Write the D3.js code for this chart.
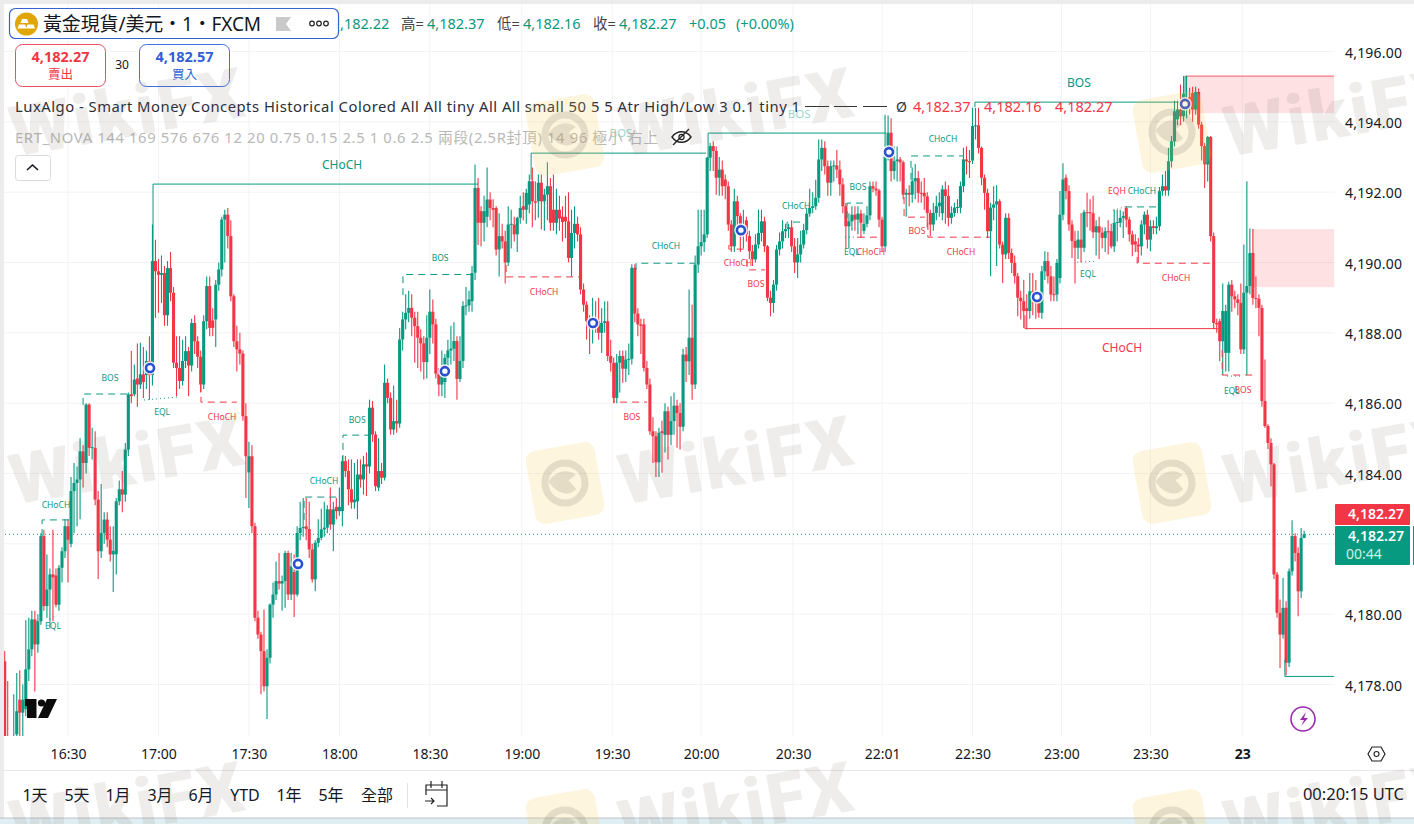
<!DOCTYPE html>
<html><head><meta charset="utf-8">
<script src="https://cdn.jsdelivr.net/npm/d3@7"></script>
<style>html,body{margin:0;padding:0;background:#fff;overflow:hidden}svg{display:block}</style>
</head><body><svg id="c" width="1414" height="824"></svg>
<script>
const opens=[
4178.66,4176.4,4176.0,4175.9,4176.58,4177.57,4177.2,4177.3,4178.43,4179.0,
4179.85,4179.14,4179.8,4182.22,4180.23,4180.7,4181.13,4181.1,4180.27,4181.32,
4181.79,4182.5,4182.0,4183.5,4183.73,4183.83,4184.63,4184.3,4185.96,4184.73,
4184.73,4183.26,4181.79,4182.31,4182.69,4182.12,4181.7,4181.7,4183.21,4183.55,
4183.4,4184.68,4186.25,4186.25,4186.7,4186.53,4186.82,4186.8,4187.2,4186.8,
4190.04,4189.75,4189.65,4189.7,4188.5,4189.84,4189.14,4187.15,4187.0,4186.63,
4187.2,4187.48,4187.07,4188.28,4187.76,4187.32,4186.53,4188.33,4189.33,4188.35,
4188.38,4189.37,4189.8,4191.22,4191.36,4190.75,4189.04,4187.76,4187.53,4187.41,
4185.63,4184.03,4184.49,4182.5,4179.9,4179.42,4178.95,4177.95,4178.76,4180.27,
4180.56,4180.94,4180.87,4180.94,4181.74,4180.56,4181.2,4180.56,4182.31,4182.45,
4182.5,4182.42,4181.84,4180.99,4182.03,4182.17,4182.41,4182.46,4182.98,4182.55,
4183.05,4182.93,4182.93,4184.35,4184.07,4183.55,4183.18,4183.21,4183.97,4183.83,
4184.26,4184.2,4185.87,4185.11,4183.6,4184.07,4183.88,4186.58,4186.15,4185.25,
4185.49,4185.42,4187.81,4188.38,4188.57,4188.71,4188.43,4188.19,4187.86,4187.7,
4187.17,4187.86,4188.6,4188.24,4186.84,4186.53,4186.6,4187.29,4187.5,4187.55,
4187.77,4186.69,4187.2,4188.76,4188.78,4188.9,4189.71,4192.12,4191.46,4191.13,
4191.3,4191.79,4191.55,4191.55,4190.37,4190.75,4190.6,4190.0,4191.08,4191.08,
4190.8,4191.27,4191.6,4191.5,4191.65,4192.31,4191.74,4191.74,4192.27,4191.74,
4191.93,4192.17,4191.5,4191.13,4191.5,4191.3,4191.3,4191.17,4190.13,4190.84,
4191.1,4190.8,4189.23,4188.8,4188.33,4188.14,4188.33,4188.33,4188.0,4188.28,
4188.33,4187.34,4187.15,4186.15,4187.15,4187.34,4186.98,4187.24,4187.26,4189.85,
4188.55,4188.24,4188.24,4187.0,4186.53,4185.2,4185.06,4184.32,4185.2,4185.1,
4185.77,4185.1,4185.49,4185.93,4185.72,4185.33,4187.38,4187.19,4187.86,4186.53,
4189.94,4190.46,4190.58,4190.8,4192.98,4193.31,4193.17,4192.41,4192.64,4192.36,
4192.17,4191.08,4190.46,4191.74,4191.32,4190.84,4191.2,4190.75,4190.32,4190.09,
4190.51,4190.84,4191.17,4190.46,4189.0,4188.85,4189.37,4190.37,4190.6,4190.89,
4190.95,4191.0,4190.46,4190.0,4190.23,4190.51,4190.92,4191.39,4191.55,4191.6,
4191.84,4192.93,4193.26,4192.74,4192.27,4192.74,4192.76,4192.64,4192.22,4191.6,
4191.03,4191.17,4191.36,4191.22,4191.39,4190.9,4191.1,4191.34,4192.17,4192.1,
4192.05,4191.22,4190.46,4193.02,4193.69,4192.6,4192.88,4192.93,4192.85,4191.93,
4191.98,4191.93,4192.31,4192.4,4191.98,4191.98,4191.88,4191.41,4191.08,4191.41,
4191.6,4191.4,4192.08,4191.89,4191.27,4191.41,4191.56,4191.56,4192.17,4192.93,
4192.88,4192.9,4193.88,4193.9,4193.26,4192.41,4191.98,4190.89,4191.56,4191.65,
4191.74,4190.51,4190.23,4191.27,4190.27,4189.99,4189.61,4189.0,4188.9,4188.7,
4188.62,4189.18,4189.18,4188.85,4188.57,4189.75,4190.04,4189.61,4189.1,4189.09,
4189.56,4191.36,4192.41,4192.03,4191.08,4190.61,4190.42,4190.65,4190.42,4191.43,
4191.43,4191.4,4190.86,4191.03,4190.85,4190.7,4190.89,4190.89,4190.46,4191.13,
4191.13,4191.27,4191.55,4191.22,4190.8,4190.6,4190.51,4190.46,4191.08,4191.36,
4190.65,4191.03,4190.98,4191.03,4192.03,4192.17,4192.05,4192.88,4193.45,4194.07,
4194.35,4194.16,4194.35,4194.7,4194.82,4194.35,4194.85,4193.92,4193.31,4192.79,
4193.57,4190.75,4188.28,4188.33,4187.76,4187.43,4187.43,4189.37,4189.04,4188.95,
4188.85,4187.53,4189.14,4189.33,4190.27,4188.99,4188.97,4188.71,4186.06,4185.35,
4184.87,4184.26,4181.13,4180.04,4179.42,4180.18,4178.62,4181.22,4182.22,4181.74,
4180.65,4182.17];
const closes=[
4176.25,4176.0,4176.3,4176.4,4177.24,4177.2,4177.57,4178.43,4179.0,4179.85,
4179.14,4179.8,4182.22,4180.23,4180.7,4181.13,4181.05,4180.27,4181.32,4181.79,
4182.5,4182.12,4183.5,4183.73,4183.83,4184.63,4184.3,4185.96,4184.73,4184.75,
4183.26,4181.79,4182.31,4182.69,4182.12,4181.7,4181.8,4183.21,4183.55,4183.4,
4184.68,4186.25,4186.2,4186.67,4186.53,4186.82,4186.6,4187.2,4186.8,4190.04,
4189.75,4189.65,4189.7,4188.5,4189.84,4189.14,4187.15,4187.0,4186.63,4187.2,
4187.48,4187.07,4188.28,4187.76,4187.32,4186.53,4188.33,4189.33,4188.14,4188.14,
4189.37,4189.8,4191.22,4191.36,4190.75,4189.04,4187.76,4187.53,4187.41,4185.63,
4184.49,4184.49,4182.5,4179.9,4179.42,4178.95,4177.95,4178.76,4180.27,4180.56,
4180.94,4180.87,4180.94,4181.74,4180.56,4181.36,4180.56,4182.31,4182.45,4182.48,
4182.42,4181.84,4180.99,4182.03,4182.17,4182.41,4182.46,4182.98,4182.55,4182.98,
4182.93,4183.05,4184.35,4184.07,4183.55,4183.18,4183.26,4183.97,4183.83,4184.26,
4184.2,4185.87,4185.11,4183.64,4184.07,4183.88,4186.58,4186.15,4185.25,4185.49,
4185.42,4187.81,4188.38,4188.57,4188.71,4188.43,4188.19,4187.86,4187.7,4187.17,
4187.86,4188.6,4188.24,4186.84,4186.53,4186.77,4187.29,4187.5,4187.55,4187.77,
4186.69,4187.2,4188.76,4188.78,4188.95,4189.7,4192.12,4191.13,4191.13,4191.46,
4191.79,4191.55,4191.5,4190.37,4190.75,4190.6,4190.0,4191.08,4191.1,4190.8,
4191.27,4191.55,4191.5,4191.98,4192.31,4191.74,4191.7,4192.27,4191.74,4191.93,
4192.17,4191.13,4191.13,4191.5,4191.25,4191.15,4191.17,4190.13,4190.84,4191.1,
4190.8,4189.23,4188.8,4188.33,4188.14,4188.33,4188.3,4188.0,4188.28,4188.33,
4187.34,4187.15,4186.15,4187.15,4187.34,4186.98,4187.24,4187.26,4189.85,4188.55,
4188.24,4188.2,4187.0,4186.53,4185.2,4185.06,4184.32,4185.16,4185.15,4185.77,
4185.1,4185.49,4185.93,4185.72,4185.33,4187.38,4187.19,4187.86,4186.53,4189.94,
4190.46,4190.58,4190.8,4192.98,4193.31,4193.17,4192.41,4192.64,4192.17,4192.17,
4191.08,4190.46,4191.74,4191.32,4190.84,4191.03,4190.8,4190.32,4190.09,4190.51,
4190.84,4191.17,4190.46,4189.0,4188.85,4189.37,4190.37,4190.6,4190.89,4190.95,
4191.0,4190.46,4190.0,4190.23,4190.51,4190.92,4191.39,4191.55,4191.6,4191.84,
4192.93,4193.26,4192.74,4192.27,4192.74,4192.76,4192.64,4192.22,4191.6,4191.03,
4191.17,4191.36,4191.22,4191.39,4191.13,4191.1,4191.34,4192.17,4192.1,4192.05,
4191.22,4190.46,4193.02,4193.69,4192.6,4192.88,4192.93,4192.85,4191.93,4191.98,
4191.93,4192.31,4192.4,4191.98,4191.95,4191.88,4191.41,4191.08,4191.41,4191.6,
4191.7,4192.08,4191.89,4191.27,4191.41,4191.56,4191.58,4192.17,4192.93,4192.88,
4192.85,4193.88,4193.9,4193.26,4192.41,4191.98,4190.89,4191.56,4191.65,4191.74,
4190.51,4190.23,4191.27,4190.27,4189.99,4189.61,4189.0,4188.9,4188.62,4188.62,
4189.18,4189.14,4188.85,4188.57,4189.75,4190.04,4189.61,4189.09,4189.09,4189.99,
4191.36,4192.36,4192.03,4191.08,4190.61,4190.42,4190.65,4190.42,4191.43,4191.41,
4191.4,4190.86,4191.03,4190.85,4190.7,4190.89,4190.86,4190.46,4191.13,4191.15,
4191.27,4191.32,4191.22,4190.8,4190.51,4190.51,4190.46,4191.08,4191.36,4190.65,
4191.03,4190.98,4191.03,4192.03,4192.17,4192.05,4192.88,4193.45,4194.3,4194.35,
4194.16,4194.8,4194.63,4194.45,4194.35,4194.85,4193.92,4193.31,4192.79,4193.57,
4190.75,4188.28,4188.24,4187.76,4188.62,4188.62,4189.37,4189.04,4188.95,4188.85,
4187.53,4189.14,4189.33,4190.27,4188.99,4188.97,4188.71,4186.06,4185.35,4184.87,
4184.26,4181.13,4180.04,4179.42,4180.18,4178.62,4181.22,4182.22,4181.74,4180.65,
4182.17,4182.27];
const highs=[
4178.95,4178.1,4176.4,4177.72,4178.33,4178.4,4178.0,4179.83,4179.9,4180.1,
4180.1,4180.0,4182.3,4182.4,4181.7,4181.3,4182.4,4181.3,4181.4,4181.9,
4182.7,4182.7,4183.9,4184.3,4184.2,4185.0,4184.8,4186.0,4186.0,4185.3,
4185.2,4183.5,4183.7,4182.9,4182.9,4182.5,4182.5,4183.3,4183.8,4184.07,
4184.87,4186.3,4187.48,4187.1,4187.7,4187.72,4187.6,4187.5,4187.9,4191.08,
4190.65,4190.1,4190.2,4189.9,4190.04,4190.3,4189.3,4187.9,4187.9,4187.8,
4187.9,4187.6,4188.4,4188.5,4187.9,4187.5,4188.5,4189.6,4189.6,4188.7,
4189.5,4190.0,4191.3,4191.5,4191.55,4191.2,4189.1,4188.2,4188.0,4187.5,
4186.0,4184.9,4184.8,4182.6,4180.1,4179.5,4180.13,4179.0,4180.3,4180.9,
4181.5,4181.74,4181.1,4181.8,4181.8,4181.75,4181.7,4182.5,4183.2,4183.3,
4183.3,4183.2,4182.0,4182.1,4182.7,4183.0,4183.2,4183.1,4183.6,4183.2,
4183.3,4183.6,4184.5,4184.5,4184.4,4184.4,4184.3,4184.4,4184.4,4184.5,
4184.6,4186.1,4186.06,4185.2,4185.0,4184.3,4187.1,4186.7,4186.3,4186.5,
4186.1,4188.14,4188.6,4189.1,4189.2,4189.1,4188.6,4188.6,4188.1,4187.9,
4188.5,4189.23,4188.95,4188.4,4187.0,4187.5,4187.4,4187.8,4188.2,4188.3,
4187.9,4187.9,4188.9,4189.3,4189.2,4189.9,4192.79,4192.4,4191.6,4191.9,
4192.7,4192.0,4191.8,4191.6,4191.4,4191.1,4190.9,4191.6,4191.5,4191.3,
4191.3,4191.9,4192.0,4192.1,4192.5,4192.7,4192.3,4192.5,4192.5,4192.1,
4192.85,4192.4,4192.5,4192.1,4191.9,4191.6,4191.9,4192.0,4191.5,4191.6,
4191.3,4191.0,4189.4,4188.9,4188.5,4189.0,4188.9,4189.0,4188.7,4188.9,
4188.9,4187.8,4187.3,4187.4,4187.5,4187.5,4187.5,4187.7,4189.95,4189.95,
4188.7,4188.4,4188.4,4187.2,4186.7,4185.6,4185.2,4185.3,4185.5,4186.0,
4185.9,4186.2,4186.3,4186.1,4186.0,4187.55,4187.6,4189.23,4188.8,4190.2,
4191.5,4191.5,4191.5,4193.0,4193.4,4193.45,4193.3,4193.0,4192.9,4192.5,
4192.3,4191.2,4192.1,4191.9,4191.4,4191.5,4191.3,4190.9,4190.5,4190.8,
4191.5,4191.5,4191.3,4190.5,4189.2,4189.5,4190.5,4190.85,4191.2,4191.1,
4191.1,4191.2,4190.7,4190.7,4190.9,4191.1,4191.55,4192.1,4192.0,4192.35,
4193.5,4193.5,4193.45,4192.9,4192.9,4192.9,4193.2,4192.9,4192.4,4191.7,
4191.4,4191.6,4191.6,4191.6,4191.5,4191.4,4191.6,4192.3,4192.3,4192.3,
4192.1,4191.3,4194.2,4194.18,4194.1,4193.3,4193.3,4193.0,4192.9,4192.1,
4192.2,4192.7,4192.8,4192.6,4192.3,4192.4,4192.0,4191.5,4191.7,4191.9,
4192.0,4192.2,4192.3,4192.2,4191.6,4191.7,4191.8,4192.3,4193.26,4193.3,
4193.2,4194.4,4194.4,4194.4,4193.3,4192.5,4192.1,4191.7,4192.17,4192.2,
4191.8,4190.6,4191.4,4191.4,4190.4,4190.2,4189.7,4189.2,4189.5,4189.1,
4189.7,4189.7,4189.5,4189.0,4189.9,4190.32,4190.3,4189.9,4189.6,4190.1,
4192.03,4192.82,4192.5,4192.2,4191.2,4190.9,4190.9,4191.4,4191.5,4191.98,
4191.8,4191.9,4191.2,4191.3,4191.0,4191.0,4191.2,4191.1,4191.5,4191.5,
4191.5,4191.45,4191.6,4191.3,4190.9,4190.8,4190.7,4191.2,4191.45,4191.5,
4191.2,4191.2,4191.3,4192.15,4192.5,4192.6,4193.26,4193.6,4194.6,4194.6,
4195.06,4195.3,4195.3,4194.97,4195.0,4195.0,4194.95,4194.0,4193.4,4193.6,
4193.6,4190.85,4188.4,4188.4,4189.4,4188.8,4189.45,4189.5,4189.2,4189.1,
4189.4,4190.51,4192.31,4190.97,4190.95,4189.6,4189.1,4188.8,4187.24,4185.4,
4185.0,4184.3,4181.2,4180.42,4181.03,4180.37,4181.3,4182.67,4182.3,4181.9,
4182.45,4182.37];
const lows=[
4175.9,4175.8,4175.5,4175.7,4176.0,4176.3,4176.5,4177.1,4178.1,4178.8,
4177.8,4178.9,4179.7,4180.1,4179.9,4179.6,4179.8,4180.2,4180.1,4180.9,
4181.6,4180.9,4181.9,4182.3,4182.5,4182.7,4183.6,4184.0,4184.5,4184.4,
4183.1,4181.0,4181.6,4182.0,4181.9,4181.5,4180.63,4181.13,4183.1,4182.9,
4183.2,4184.5,4186.0,4186.2,4185.9,4186.4,4186.15,4186.4,4186.1,4186.5,
4188.43,4188.57,4188.85,4188.2,4188.2,4188.9,4187.0,4186.2,4186.4,4186.5,
4187.0,4186.2,4186.9,4187.4,4187.0,4186.3,4186.4,4188.1,4187.9,4187.9,
4187.6,4189.2,4189.6,4190.0,4190.4,4188.9,4187.6,4186.9,4187.1,4185.5,
4183.3,4183.02,4182.3,4179.8,4179.3,4177.72,4177.8,4177.02,4178.6,4179.9,
4180.4,4180.7,4180.1,4180.18,4180.4,4180.4,4179.92,4180.5,4182.1,4182.2,
4182.1,4181.6,4180.9,4180.65,4181.9,4182.1,4182.2,4182.3,4182.4,4181.79,
4182.7,4182.8,4182.5,4183.9,4183.1,4183.0,4183.0,4182.7,4183.6,4183.4,
4183.36,4184.0,4184.9,4183.5,4183.5,4183.7,4183.8,4186.0,4185.1,4185.1,
4185.16,4185.3,4187.5,4188.1,4188.3,4187.9,4187.15,4187.0,4186.9,4186.67,
4186.7,4187.4,4187.7,4186.7,4186.2,4186.2,4186.15,4186.9,4187.1,4187.2,
4186.1,4186.6,4187.0,4188.5,4188.6,4188.6,4189.5,4190.5,4190.46,4190.6,
4191.0,4191.2,4191.0,4190.2,4189.6,4190.4,4189.4,4189.9,4190.4,4190.6,
4190.3,4191.1,4191.2,4191.1,4191.4,4191.0,4191.2,4191.27,4190.94,4190.9,
4191.2,4190.9,4190.9,4190.8,4190.9,4190.6,4190.7,4190.0,4189.6,4190.4,
4190.6,4189.1,4188.6,4187.81,4187.4,4187.7,4188.0,4187.8,4187.43,4188.0,
4187.2,4186.9,4186.0,4186.0,4186.3,4186.58,4186.6,4186.8,4187.1,4188.3,
4187.9,4187.4,4186.9,4186.4,4185.1,4184.3,4183.9,4183.9,4184.02,4184.6,
4184.4,4184.8,4185.1,4184.73,4184.68,4185.2,4186.6,4186.8,4186.1,4186.4,
4189.7,4190.2,4190.3,4190.7,4192.6,4192.6,4191.93,4191.9,4191.9,4191.8,
4190.9,4190.3,4190.3,4190.9,4190.3,4190.4,4190.6,4190.1,4189.9,4190.0,
4190.4,4190.6,4190.3,4188.9,4188.47,4188.57,4189.2,4190.2,4190.4,4190.7,
4190.7,4190.3,4189.7,4189.56,4190.0,4190.4,4190.8,4191.3,4191.4,4191.5,
4191.7,4192.6,4192.5,4191.9,4191.9,4192.3,4192.4,4191.9,4191.4,4190.4,
4190.4,4190.9,4190.9,4190.8,4190.7,4190.8,4191.0,4191.2,4192.0,4191.9,
4191.0,4190.3,4190.3,4192.9,4192.3,4192.36,4192.3,4192.3,4191.8,4191.3,
4191.6,4191.7,4191.8,4191.7,4191.7,4191.5,4191.0,4190.75,4190.9,4191.2,
4191.3,4191.2,4191.1,4191.03,4191.1,4191.3,4191.4,4191.4,4192.0,4192.5,
4192.4,4192.8,4193.5,4193.1,4192.2,4191.5,4190.7,4189.61,4191.2,4189.9,
4190.4,4189.42,4190.1,4190.1,4189.7,4189.4,4188.47,4188.38,4188.14,4188.1,
4188.4,4188.5,4188.4,4188.43,4188.4,4189.5,4189.4,4188.9,4188.9,4188.9,
4189.4,4191.2,4191.8,4190.9,4190.13,4189.4,4190.1,4190.0,4190.3,4191.0,
4190.9,4190.7,4190.2,4190.1,4190.4,4190.3,4190.23,4190.4,4190.3,4190.6,
4191.0,4190.7,4191.0,4190.6,4190.18,4190.3,4189.99,4190.2,4190.8,4190.4,
4190.32,4190.8,4190.8,4190.9,4191.9,4191.9,4191.9,4192.7,4193.3,4193.9,
4193.9,4194.0,4194.1,4194.2,4194.0,4194.2,4193.8,4192.9,4192.12,4192.3,
4190.6,4188.1,4188.0,4187.19,4186.8,4186.9,4186.9,4188.6,4188.7,4188.5,
4187.4,4187.4,4186.8,4189.1,4188.8,4188.7,4187.9,4185.9,4185.3,4184.7,
4183.64,4181.0,4179.9,4178.47,4179.3,4178.26,4178.5,4181.1,4181.5,4179.94,
4180.46,4182.16];
const priceTicks=[4178,4180,4182,4184,4186,4188,4190,4192,4194,4196];
const timeIdx=[21,51,81,111,141,171.5,201.5,231,261.5,291,321,350.5,380,410.5];
const timeLabels=["16:30","17:00","17:30","18:00","18:30","19:00","19:30","20:00","20:30","22:01","22:30","23:00","23:30","23"];
// structure breaks: label, side, line style, start bar, end bar, level, origin level, label bar, label price, label size, label opacity
const structures=[
["CHoCH","g","solid",49.2,157,4192.23,4190.01,111.9,4192.77,12,1],
["BOS","g","solid",174.6,232.6,4193.11,4192.35,204.4,4193.68,11.5,.4],
["BOS","g","solid",233.3,292.3,4193.68,4192.91,263.5,4194.22,11.5,.4],
["BOS","g","solid",321.8,391.5,4194.56,4194.42,356.3,4195.1,12,1],
["CHoCH","r","solid",338.4,402.4,4188.12,4188.5,370.6,4187.57,12,1],
["CHoCH","g","dash",12.4,21.7,4182.68,4182.22,17,4183.1,8.5,1],
["BOS","g","dash",26,41.2,4186.26,4185.95,34.9,4186.71,8.5,1],
["CHoCH","r","dash",65.1,77,4186.03,4186.52,72.1,4185.61,8.5,1],
["CHoCH","g","dash",99.3,110.2,4183.33,4182.68,105.9,4183.79,8.5,1],
["BOS","g","dash",112.2,121.2,4185.09,4184.33,116.9,4185.52,8.5,1],
["BOS","g","dash",132.1,155.3,4189.66,4189.07,144.4,4190.13,8.5,1],
["CHoCH","r","dash",166.3,190.8,4189.59,4189.93,178.9,4189.16,8.5,1],
["BOS","r","dash",202.1,213,4186.03,4186.2,208,4185.61,8.5,1],
["CHoCH","g","dash",209.4,228.9,4189.98,4189.79,219.3,4190.47,8.5,1],
["CHoCH","r","dash",240.2,247.2,4190.38,4190.5,243.2,4189.98,8.5,1],
["BOS","r","dash",246.2,252.2,4189.79,4190.07,249.2,4189.39,8.5,1],
["CHoCH","g","dash",259.5,265.4,4191.15,4190.98,262.5,4191.61,8.5,1],
["BOS","g","dash",279.4,286,4191.69,4191.26,283,4192.15,8.5,1],
["CHoCH","r","dash",283,290.3,4190.72,4190.72,287.3,4190.3,8.5,1],
["BOS","r","dash",298.3,305.2,4191.29,4191.86,302.6,4190.89,8.5,1],
["CHoCH","g","dash",300.6,317.9,4193.03,4192.35,311.2,4193.51,8.5,1],
["CHoCH","r","dash",306.2,326.8,4190.72,4191.12,317.2,4190.3,8.5,1],
["CHoCH","g","dash",371.6,382.2,4191.58,4191.58,377.2,4192.03,8.5,1],
["CHoCH","r","dash",375.6,399.8,4189.98,4190.5,388.5,4189.56,8.5,1],
["BOS","r","dash",403.8,415.4,4186.8,4187.51,410.7,4186.37,8.5,1]];
// equal highs/lows: label, side, start bar, end bar, start price, end price, label bar, label price
const equals=[
["EQL","g",15,17.3,4179.86,4179.98,16,4179.66],
["EQL","g",46.2,57.1,4186.09,4186.17,52.2,4185.75],
["EQL","g",278.7,283,4190.72,4190.72,281,4190.3],
["EQL","g",355.7,362.3,4190.01,4190.04,359.3,4189.67],
["EQH","r",367.6,371.6,4191.49,4191.58,368.9,4192.03],
["EQL","g",405.4,410.4,4186.77,4186.77,407,4186.35]];
const zones=[[391.5,441,4195.3,4194.25],[413.7,441,4190.95,4189.3]];
const trailLow=[424.6,441,4178.23,4178.7];
const markerBars=[48.2,97.3,146,195.1,244.2,293.3,342.4,391.5];
const markerPrices=[4187,4181.43,4186.91,4188.28,4190.92,4193.14,4189.02,4194.51];
const lastPrice=4182.27;
const quoteParts=[[340,",182.22","#089981"],[401,"高=","#444"],[427,"4,182.37","#089981"],[497,"低=","#444"],[523,"4,182.16","#089981"],[593,"收=","#444"],[619,"4,182.27","#089981"],[689,"+0.05","#089981"],[736,"(+0.00%)","#089981"]];
const rangeBtns=[["1天",35],["5天",77],["1月",118],["3月",160],["6月",201],["YTD",245],["1年",289],["5年",331],["全部",377]];
const marks=[[128,460],[737,460],[1342,460],[128,112],[737,112],[1342,112],[128,806],[737,806],[1342,806]];
const logos=[[565,483],[1172,483],[565,135],[1172,132],[565,830],[1172,830]];

const GREEN="#089981",RED="#f23645",SANS="'Noto Sans','Noto Sans CJK TC',sans-serif";
const svg=d3.select("#c").attr("font-family",SANS);
const x=d3.scaleLinear().domain([0,441]).range([4.7,1334.3]);
const y=d3.scaleLinear().domain([4178,4196]).range([684.5,51.5]);
const col=s=>s==="g"?GREEN:RED;
const candles=closes.map((c,i)=>({i,o:opens[i],h:highs[i],l:lows[i],c}));

svg.append("rect").attr("width",1414).attr("height",4).attr("fill","#ececec");
svg.append("rect").attr("width",4).attr("height",824).attr("fill","#ececec");
svg.append("rect").attr("y",818).attr("width",1414).attr("height",6).attr("fill","#dfeef2");
svg.append("line").attr("x1",0).attr("x2",1414).attr("y1",818).attr("y2",818).attr("stroke","#bfc3c8");
svg.append("line").attr("x1",4).attr("x2",1414).attr("y1",770.5).attr("y2",770.5).attr("stroke","#e6e7ea");

const defs=svg.append("defs");
defs.append("clipPath").attr("id","pane").append("rect").attr("x",4).attr("y",4).attr("width",1330.5).attr("height",732);
const pane=svg.append("g").attr("clip-path","url(#pane)");
pane.selectAll(".gh").data(priceTicks).join("line").attr("x1",4).attr("x2",1335).attr("y1",d=>y(d)).attr("y2",d=>y(d)).attr("stroke","#f2f3f5");
pane.selectAll(".gv").data(timeIdx).join("line").attr("x1",d=>x(d)).attr("x2",d=>x(d)).attr("y1",4).attr("y2",736).attr("stroke","#f2f3f5");

pane.selectAll(".z").data(zones).join("rect").attr("x",d=>x(d[0])).attr("width",d=>x(d[1])-x(d[0])).attr("y",d=>y(d[2])).attr("height",d=>y(d[3])-y(d[2])).attr("fill",RED).attr("fill-opacity",.15);
const z0=zones[0];
pane.append("line").attr("x1",x(z0[0])).attr("x2",x(z0[1])).attr("y1",y(z0[2])).attr("y2",y(z0[2])).attr("stroke",RED).attr("stroke-opacity",.8);
pane.append("line").attr("x1",x(z0[0])).attr("x2",x(z0[0])).attr("y1",y(z0[2])).attr("y2",y(markerPrices[7])).attr("stroke",GREEN);

pane.append("line").attr("x1",5).attr("x2",1335).attr("y1",y(lastPrice)).attr("y2",y(lastPrice)).attr("stroke",GREEN).attr("stroke-dasharray","1 3");

const cg=pane.append("g");
cg.selectAll(".w").data(candles).join("line").attr("x1",d=>x(d.i)).attr("x2",d=>x(d.i)).attr("y1",d=>y(d.h)).attr("y2",d=>y(d.l)).attr("stroke",d=>d.c>=d.o?GREEN:RED).attr("stroke-width",1.1);
cg.selectAll(".b").data(candles).join("rect").attr("x",d=>x(d.i)-1.55).attr("width",3.1).attr("y",d=>y(Math.max(d.o,d.c))).attr("height",d=>Math.max(1,Math.abs(y(d.o)-y(d.c)))).attr("fill",d=>d.c>=d.o?GREEN:RED);

const sg=pane.append("g").attr("fill","none");
structures.forEach(s=>{
  const [t,side,style,a,b,lv,from,lx,ly,fs,op]=s;
  const p=d3.path();p.moveTo(x(a),y(from));p.lineTo(x(a),y(lv));p.lineTo(x(b),y(lv));
  sg.append("path").attr("d",p.toString()).attr("stroke",col(side)).attr("stroke-dasharray",style==="dash"?"7 5":null);
  pane.append("text").attr("x",x(lx)).attr("y",y(ly)).attr("text-anchor","middle").attr("dy",".35em").attr("font-size",fs).attr("fill",col(side)).attr("opacity",op).text(t);
});
equals.forEach(e=>{
  const [t,side,a,b,p0,p1,lx,ly]=e;
  sg.append("line").attr("x1",x(a)).attr("x2",x(b)).attr("y1",y(p0)).attr("y2",y(p1)).attr("stroke",col(side)).attr("stroke-dasharray","1 3");
  pane.append("text").attr("x",x(lx)).attr("y",y(ly)).attr("text-anchor","middle").attr("dy",".35em").attr("font-size",8.5).attr("fill",col(side)).text(t);
});
sg.append("path").attr("d",`M${x(trailLow[0])},${y(trailLow[3])}V${y(trailLow[2])}H${x(trailLow[1])}`).attr("stroke",GREEN);

const rings=markerBars.map((b,i)=>[b,markerPrices[i]]);
pane.selectAll(".r0").data(rings).join("circle").attr("cx",d=>x(d[0])).attr("cy",d=>y(d[1])).attr("r",6.8).attr("fill","#fff").attr("fill-opacity",.85);
pane.selectAll(".r1").data(rings).join("circle").attr("cx",d=>x(d[0])).attr("cy",d=>y(d[1])).attr("r",4).attr("fill","#fff").attr("stroke","#2a4fd0").attr("stroke-width",2.6);

// axes
const ya=svg.append("g").attr("transform","translate(1334,0)").call(d3.axisRight(y).tickValues(priceTicks).tickFormat(d3.format(",.2f")).tickSize(0).tickPadding(11));
ya.select(".domain").remove();
ya.selectAll("text").attr("font-size",14).attr("font-family",SANS).attr("fill","#131722").attr("letter-spacing",".2").attr("dy",".4em");
const xa=svg.append("g").attr("transform","translate(0,736)").call(d3.axisBottom(x).tickValues(timeIdx).tickFormat((d,i)=>timeLabels[i]).tickSize(0).tickPadding(13));
xa.select(".domain").remove();
xa.selectAll("text").attr("font-size",14).attr("font-family",SANS).attr("fill","#131722").attr("font-weight",(d,i)=>timeLabels[i]==="23"?700:400);

// price badges
const fmt=d3.format(",.2f");
svg.append("rect").attr("x",1335).attr("y",504).attr("width",75).attr("height",21).attr("rx",1).attr("fill",RED);
svg.append("text").attr("x",1376).attr("y",519).attr("text-anchor","middle").attr("fill","#fff").attr("font-size",14).attr("font-weight",600).text(fmt(lastPrice));
svg.append("rect").attr("x",1335).attr("y",526).attr("width",75).attr("height",39).attr("rx",1).attr("fill",GREEN);
svg.append("rect").attr("x",1413).attr("y",526).attr("width",1).attr("height",39).attr("fill",GREEN);
svg.append("text").attr("x",1376).attr("y",541).attr("text-anchor","middle").attr("fill","#fff").attr("font-size",14).attr("font-weight",600).text(fmt(lastPrice));
svg.append("text").attr("x",1346).attr("y",559).attr("fill","#cfeee6").attr("font-size",14).text("00:44");

// header
svg.append("rect").attr("x",9.5).attr("y",8.5).attr("width",329).attr("height",30).attr("rx",6).attr("fill","#fff").attr("stroke","#3763d0").attr("stroke-width",1.2);
svg.append("circle").attr("cx",26.5).attr("cy",24).attr("r",11.5).attr("fill","#e0a507");
svg.append("path").attr("d","M22 19h5l1.5 4h-8zM19 24.5h6l1.5 4H17.5zM27.5 24.5h6l1.5 4h-9z").attr("fill","#fff");
svg.append("text").attr("x",43).attr("y",31).attr("font-size",19).attr("fill","#131722").attr("textLength",218).text("黃金現貨/美元・1・FXCM");
svg.append("path").attr("d","M276 17h15l-5 7 5 7h-15z").attr("fill","#c9c9c9");
[312,319,326].forEach(c=>svg.append("circle").attr("cx",c).attr("cy",23.5).attr("r",2.3).attr("fill","none").attr("stroke","#222").attr("stroke-width",1.2));
quoteParts.forEach(q=>svg.append("text").attr("x",q[0]).attr("y",29).attr("font-size",14.5).attr("fill",q[2]).text(q[1]));

[[15,"#e8505f",RED,"4,182.27","賣出"],[139,"#3f6fe0","#2f5fd8","4,182.57","買入"]].forEach(b=>{
  svg.append("rect").attr("x",b[0]+.5).attr("y",44.5).attr("width",90).attr("height",42).attr("rx",7).attr("fill","#fff").attr("stroke",b[1]);
  svg.append("text").attr("x",b[0]+45.5).attr("y",62).attr("text-anchor","middle").attr("font-size",14.5).attr("font-weight",700).attr("fill",b[2]).text(b[3]);
  svg.append("text").attr("x",b[0]+45.5).attr("y",79).attr("text-anchor","middle").attr("font-size",12.5).attr("fill",b[2]).text(b[4]);
});
svg.append("text").attr("x",122).attr("y",69).attr("text-anchor","middle").attr("font-size",12).attr("fill","#131722").text("30");

svg.append("text").attr("x",15).attr("y",112).attr("font-size",14.8).attr("fill","#2a2e39").attr("textLength",785).text("LuxAlgo - Smart Money Concepts Historical Colored All All tiny All All small 50 5 5 Atr High/Low 3 0.1 tiny 1");
[[805,829],[834,857],[863,887]].forEach(s=>svg.append("line").attr("x1",s[0]).attr("x2",s[1]).attr("y1",106.5).attr("y2",106.5).attr("stroke","#333"));
svg.append("text").attr("x",896).attr("y",112).attr("font-size",14).attr("fill","#333").text("Ø");
[[913,"4,182.37"],[984,"4,182.16"],[1055,"4,182.27"]].forEach(v=>svg.append("text").attr("x",v[0]).attr("y",112).attr("font-size",14.5).attr("fill",RED).text(v[1]));
svg.append("text").attr("x",15).attr("y",143).attr("font-size",14.8).attr("fill","#b9b9b9").attr("textLength",643).text("ERT_NOVA 144 169 576 676 12 20 0.75 0.15 2.5 1 0.6 2.5 兩段(2.5R封頂) 14 96 極小 右上");
svg.append("path").attr("d","M672 137c5-7 14-7 19 0c-5 7-14 7-19 0zM673 145l16-16").attr("fill","none").attr("stroke","#222").attr("stroke-width",1.4);
svg.append("circle").attr("cx",681.5).attr("cy",137).attr("r",2.6).attr("fill","none").attr("stroke","#222").attr("stroke-width",1.2);
svg.append("rect").attr("x",15.5).attr("y",155.5).attr("width",35).attr("height",25).attr("rx",3).attr("fill","#fff").attr("stroke","#d8dade");
svg.append("path").attr("d","M27 170l5.5-5 5.5 5").attr("fill","none").attr("stroke","#131722").attr("stroke-width",1.6);

// TradingView logo
svg.append("path").attr("d","M25 699H36.5V718H27V706H25Z M47 699H57L48 718H38Z").attr("fill","#0b0b0b");
svg.append("circle").attr("cx",41.5).attr("cy",703).attr("r",3.6).attr("fill","#0b0b0b");
// lightning badge
svg.append("circle").attr("cx",1303).attr("cy",719).attr("r",12).attr("fill","#fff").attr("stroke","#9c27b0").attr("stroke-width",1.6);
svg.append("path").attr("d","M1306 712l-6 8h4l-3 6 7-8h-4z").attr("fill","#9c27b0");
// settings hexagon
svg.append("path").attr("d","M1368 754l4-7h9l4 7-4 7h-9z").attr("fill","none").attr("stroke","#222").attr("stroke-width",1.2);
svg.append("circle").attr("cx",1376.5).attr("cy",754).attr("r",2.5).attr("fill","none").attr("stroke","#222").attr("stroke-width",1.1);

// range buttons
rangeBtns.forEach(b=>svg.append("text").attr("x",b[1]).attr("y",801).attr("text-anchor","middle").attr("font-size",16).attr("fill","#131722").text(b[0]));
svg.append("line").attr("x1",407.5).attr("x2",407.5).attr("y1",783).attr("y2",808).attr("stroke","#e0e3eb");
svg.append("path").attr("d","M426 795V785H447V806H437M431 781V788M442 781V788M426 790H447M425 801H434M431 798L434 801L431 804").attr("fill","none").attr("stroke","#222").attr("stroke-width",1.2);
svg.append("text").attr("x",1404).attr("y",800).attr("text-anchor","end").attr("font-size",16.5).attr("fill","#131722").text("00:20:15 UTC");

// watermark
const wm=svg.append("g").attr("pointer-events","none");
logos.forEach(l=>{
  const g=wm.append("g").attr("transform",`translate(${l[0]},${l[1]}) rotate(-10)`);
  g.append("rect").attr("x",-35).attr("y",-37).attr("width",70).attr("height",74).attr("rx",10).attr("fill","#f7c948").attr("opacity",.18);
  g.append("circle").attr("r",20).attr("fill","none").attr("stroke","#7d766a").attr("stroke-width",7).attr("opacity",.2);
  g.append("path").attr("d","M-16 -4C-8 -14 6 -14 12 -6L4 -2L10 8C2 14 -10 10 -16 -4Z").attr("fill","#7d766a").attr("opacity",.2);
});
marks.forEach(m=>wm.append("text").attr("transform",`translate(${m[0]},${m[1]}) rotate(-10)`).attr("text-anchor","middle").attr("dy",".35em").attr("font-family","Roboto,'Noto Sans',sans-serif").attr("font-weight",900).attr("font-size",70).attr("letter-spacing","3").attr("fill","#6e6258").attr("opacity",.11).text("WikiFX"));
</script></body></html>
